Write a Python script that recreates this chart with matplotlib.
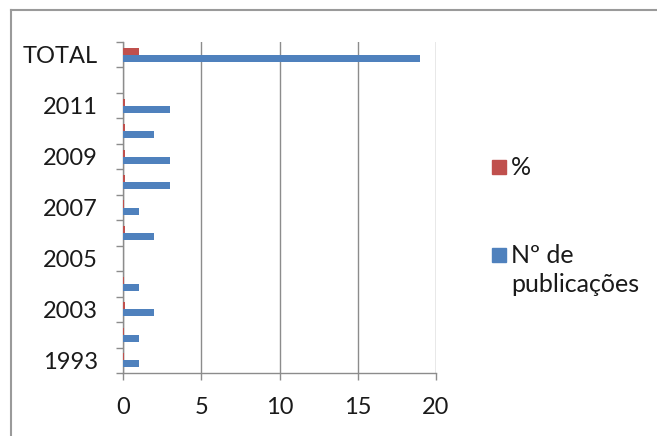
import matplotlib
matplotlib.use("Agg")
import matplotlib.pyplot as plt
from matplotlib.patches import Rectangle
from matplotlib.lines import Line2D
import numpy as np

# Categories (bottom to top); unlabeled rows keep their slot on the axis
categories = ["1993", "2002", "2003", "2004", "2005", "2006", "2007",
              "2008", "2009", "2010", "2011", "", "TOTAL"]
n_publicacoes = [1, 1, 2, 1, 0, 2, 1, 3, 3, 2, 3, 0, 19]
total = 19
percent = [v / total for v in n_publicacoes]
shown_labels = ["1993", "2003", "2005", "2007", "2009", "2011", "TOTAL"]
x_ticks = [0, 5, 10, 15, 20]
series_names = ["%", "Nº de\npublicações"]

BLUE = "#4F81BD"
RED = "#C0504D"
GRID = "#8c8c8c"
TEXT = "#1a1a1a"

plt.rcParams["font.family"] = ["Lato", "DejaVu Sans"]

W, H = 657, 436
fig = plt.figure(figsize=(W / 100, H / 100), dpi=100)
ax = fig.add_axes([123 / W, 1 - 373 / H, (436 - 123) / W, (373 - 42) / H])

y = np.arange(len(categories))
h = 0.275
ax.barh(y + h / 2, percent, height=h, color=RED, zorder=3)
ax.barh(y - h / 2, n_publicacoes, height=h, color=BLUE, zorder=3)

ax.set_xlim(0, 20)
ax.set_ylim(-0.5, len(categories) - 0.5)
ax.set_xticks(x_ticks)
ax.set_xticklabels([str(t) for t in x_ticks])
ax.xaxis.grid(True, color=GRID, linewidth=1.0, zorder=0)

# Labels on every other category, tick marks at category boundaries
label_pos = [categories.index(c) for c in shown_labels]
ax.set_yticks(label_pos)
ax.set_yticklabels(shown_labels)
ax.set_yticks(np.arange(-0.5, len(categories) - 0.4, 1.0), minor=True)
ax.tick_params(axis="y", which="major", length=0, pad=18, labelsize=17,
               labelcolor=TEXT)
ax.tick_params(axis="y", which="minor", length=5, width=1, color=GRID,
               direction="out")
ax.tick_params(axis="x", which="major", length=5, width=1, color=GRID,
               direction="out", pad=12, labelsize=17, labelcolor=TEXT)

for side in ("top", "right"):
    ax.spines[side].set_visible(False)
for side in ("left", "bottom"):
    ax.spines[side].set_color(GRID)
    ax.spines[side].set_linewidth(1.0)

# Legend: colour key aligned with the first line of each series name
def fx(px):
    return px / W

def fy(py):
    return 1 - py / H

key_size = 14
for color, name, top_px in [(RED, series_names[0], 160),
                            (BLUE, series_names[1], 248)]:
    fig.add_artist(Rectangle((fx(492), fy(top_px + key_size)),
                             key_size / W, key_size / H,
                             transform=fig.transFigure, color=color))
    for k, line in enumerate(name.split("\n")):
        fig.text(fx(511), fy(top_px + 15 + 29 * k), line, fontsize=18,
                 color=TEXT, va="baseline", ha="left")

# Chart area frame (left and top edges)
fig.add_artist(Line2D([fx(11), fx(11)], [0, fy(10)],
                      transform=fig.transFigure, color="#9a9a9a", linewidth=1.5))
fig.add_artist(Line2D([fx(11), 1], [fy(10), fy(10)],
                      transform=fig.transFigure, color="#9a9a9a", linewidth=1.5))

fig.savefig("out.png", dpi=100)
